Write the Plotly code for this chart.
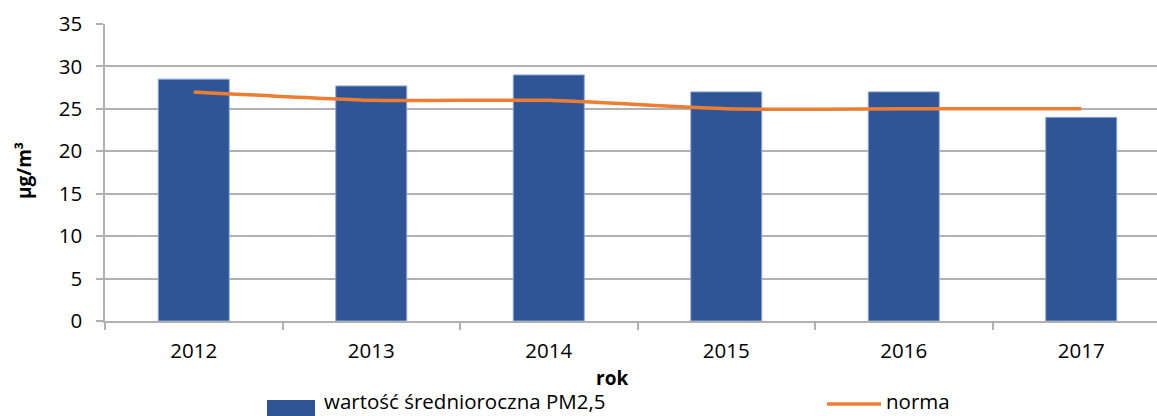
import plotly.graph_objects as go

years = ["2012", "2013", "2014", "2015", "2016", "2017"]
pm25_annual = [28.5, 27.7, 29.0, 27.0, 27.0, 24.0]
norma = [27, 26, 26, 25, 25, 25]
y_ticks = [0, 5, 10, 15, 20, 25, 30, 35]

W, H = 1157, 416
L, R, T, B = 105, 0, 24, 95
pw, ph = W - L - R, H - T - B

def px(x):
    return (x - L) / pw

def py(y):
    return (H - B - y) / ph

FONT = "Open Sans"
BLUE = "#2F5597"
ORANGE = "#ED7D31"
GRID = "#B0B0B0"
FS = 20.5

fig = go.Figure()
fig.add_trace(go.Bar(
    x=years, y=pm25_annual, width=0.4,
    marker=dict(color=BLUE, line=dict(color="#8EA9DB", width=1)),
    name="wartość średnioroczna PM2,5", showlegend=False,
))
fig.add_trace(go.Scatter(
    x=years, y=norma, mode="lines",
    line=dict(color=ORANGE, width=3.5, shape="spline", smoothing=0.5),
    name="norma", showlegend=False,
))

fig.update_layout(
    width=W, height=H,
    margin=dict(l=L, r=R, t=T, b=B),
    paper_bgcolor="white", plot_bgcolor="white",
    font=dict(family=FONT, size=FS, color="#000000"),
    xaxis=dict(
        type="category", range=[-0.5, 5.5 - 13 / 177.5],
        showgrid=False, showline=True, linecolor=GRID, linewidth=1.5,
        ticks="outside", tickson="boundaries", ticklen=7, tickcolor=GRID, tickwidth=1.5,
        ticklabelstandoff=11,
        tickfont=dict(family=FONT, size=FS),
    ),
    yaxis=dict(
        range=[0, 35], tickvals=y_ticks,
        showgrid=True, gridcolor=GRID, gridwidth=1.5,
        showline=True, linecolor=GRID, linewidth=1.5,
        ticks="outside", ticklen=7, tickcolor=GRID, tickwidth=1.5,
        zeroline=False, ticklabelstandoff=10,
        tickfont=dict(family=FONT, size=FS),
    ),
)

annotations = [
    dict(text="<b>rok</b>", x=px(612), y=py(378), xref="paper", yref="paper",
         showarrow=False, font=dict(family=FONT, size=19), xanchor="center", yanchor="middle"),
    dict(text="<b>µg/m³</b>", x=px(24), y=py(171), xref="paper", yref="paper",
         showarrow=False, textangle=-90, font=dict(family=FONT, size=19),
         xanchor="center", yanchor="middle"),
    dict(text="wartość średnioroczna PM2,5", x=px(322), y=py(401), xref="paper", yref="paper",
         showarrow=False, font=dict(family=FONT, size=FS), xanchor="left", yanchor="middle"),
    dict(text="norma", x=px(884), y=py(401), xref="paper", yref="paper",
         showarrow=False, font=dict(family=FONT, size=FS), xanchor="left", yanchor="middle"),
]
fig.update_layout(annotations=annotations)

fig.add_shape(type="rect", xref="paper", yref="paper",
              x0=px(267), x1=px(315), y0=py(400), y1=py(416),
              fillcolor=BLUE, line=dict(width=0))
fig.add_shape(type="line", xref="paper", yref="paper",
              x0=px(827), x1=px(881), y0=py(404), y1=py(404),
              line=dict(color=ORANGE, width=3.5))

fig.write_html("out.html", config={"displayModeBar": False},
               post_script="document.body.style.margin='0';document.body.style.overflow='hidden';")
